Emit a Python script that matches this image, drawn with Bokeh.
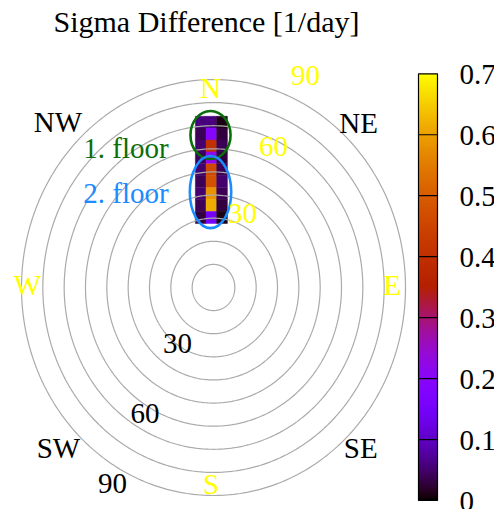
import math
import numpy as np
from bokeh.plotting import figure
from bokeh.models import Range1d, ColumnDataSource, Label, LinearColorMapper
from bokeh.transform import linear_cmap
from bokeh.core.properties import value
from bokeh.embed import file_html
from bokeh.resources import INLINE

TITLE = "Sigma Difference [1/day]"
FONT = "Liberation Serif"

# zenith-angle rings of the polar grid (deg)
ring_zen = [10, 20, 30, 40, 50, 60, 70, 80, 90]

# sigma-difference cells: east-west offset of each column, zenith of each row
col_x = [-6, -1, 4]
row_zen = [71.5, 66.4, 61.2, 56.1, 50.9, 45.8, 40.6, 35.5, 30.3]
sigma_west = [0.06, 0.04, 0.05, 0.04, 0.05, 0.04, 0.05, 0.04, 0.03]
sigma_mid = [0.06, 0.19, 0.40, 0.22, 0.46, 0.48, 0.58, 0.61, 0.15]
sigma_east = [0.01, 0.03, 0.04, 0.03, 0.04, 0.05, 0.04, 0.03, 0.01]

# the two floors, outlined as ellipses (deg)
floor_names = ["1. floor", "2. floor"]
floor_x = [-1.4, -1.4]
floor_zen = [66.0, 41.3]
floor_w = [18.8, 19.4]
floor_h = [20.8, 31.2]
floor_colors = ["#0a6e0a", "#1a8cff"]
floor_label_x = [-41.0, -41.0]
floor_label_y = [60.5, 41.0]

# compass directions
compass = ["N", "NE", "E", "SE", "S", "SW", "W", "NW"]
compass_x = [-1.4, 68.0, 83.7, 69.0, -1.2, -72.7, -87.2, -72.9]
compass_y = [86.5, 71.3, 0.9, -69.6, -85.2, -69.6, 0.9, 71.5]
compass_colors = ["#ffff00", "black", "#ffff00", "black",
                  "#ffff00", "black", "#ffff00", "black"]

# zenith-angle annotations
zen_text = ["30", "60", "90", "30", "60", "90"]
zen_x = [13.6, 28.1, 43.1, -16.9, -32.1, -47.4]
zen_y = [32.2, 61.1, 91.7, -24.1, -54.6, -85.0]
zen_colors = ["#ffff00"] * 3 + ["black"] * 3

# colour scale
cb_low, cb_high = 0.0, 0.7
cb_ticks = [0.0, 0.1, 0.2, 0.3, 0.4, 0.5, 0.6, 0.7]
cb_labels = ["0", "0.1", "0.2", "0.3", "0.4", "0.5", "0.6", "0.7"]


def gnuplot_palette(n=256):
    """Default gnuplot pm3d palette (rgbformulae 7,5,15)."""
    cols = []
    for i in range(n):
        t = i / (n - 1)
        r = math.sqrt(t)
        g = t ** 3
        b = max(0.0, math.sin(2 * math.pi * t))
        cols.append("#%02x%02x%02x" % (round(255 * r), round(255 * g), round(255 * b)))
    return cols


palette = gnuplot_palette()

W, H = 494, 509
cx, cy = 213.0, 287.0          # pole position on the canvas
sx, sy = 192.0 / 90, 208.0 / 90  # pixels per degree

p = figure(width=W, height=H, output_backend="svg", toolbar_location=None,
           x_range=Range1d(-cx / sx, (W - cx) / sx),
           y_range=Range1d(-(H - cy) / sy, cy / sy),
           min_border=0, outline_line_color=None, background_fill_color="white")
p.axis.visible = False
p.grid.visible = False
p.extra_x_ranges = {"px": Range1d(0, W)}
p.extra_y_ranges = {"pxy": Range1d(H, 0),
                    "cb": Range1d(cb_low - 9 * 0.7 / 426.7,
                                  cb_high + 73.3 * 0.7 / 426.7)}

# heat-map cells
xs, ys, vs = [], [], []
for cx_i, col in zip(col_x, [sigma_west, sigma_mid, sigma_east]):
    for z, v in zip(row_zen, col):
        xs.append(cx_i)
        ys.append(z)
        vs.append(v)
src = ColumnDataSource(dict(x=xs, y=ys, v=vs))
cmap = linear_cmap("v", palette, cb_low, cb_high)
p.rect(x="x", y="y", width=5, height=5.15, source=src,
       fill_color=cmap, line_color=cmap, line_width=0.5)

# polar grid rings
t = np.linspace(0, 2 * np.pi, 361)
for r in ring_zen:
    p.line(r * np.sin(t), r * np.cos(t), line_color="#aaaaaa", line_width=1.2)

# floor outlines
p.ellipse(x=floor_x, y=floor_zen, width=floor_w, height=floor_h,
          fill_alpha=0, line_color=floor_colors, line_width=2.6)
p.text(x=floor_label_x, y=floor_label_y, text=floor_names, text_color=floor_colors,
       text_font=value(FONT), text_font_size="29px",
       text_align="center", text_baseline="middle")

# compass and zenith labels
p.text(x=compass_x, y=compass_y, text=compass, text_color=compass_colors,
       text_font=value(FONT), text_font_size="29px",
       text_align="center", text_baseline="middle")
p.text(x=zen_x, y=zen_y, text=zen_text, text_color=zen_colors,
       text_font=value(FONT), text_font_size="29px",
       text_align="center", text_baseline="middle")

# colour bar: a smooth gradient image, tick lines across it and a frame
mapper = LinearColorMapper(palette=palette, low=cb_low, high=cb_high)
grad = np.linspace(cb_low, cb_high, 512).reshape(512, 1)
p.image(image=[grad], x=418, y=cb_low, dw=19, dh=cb_high - cb_low,
        color_mapper=mapper, x_range_name="px", y_range_name="cb")
p.segment(x0=418, x1=437, y0=cb_ticks[1:-1], y1=cb_ticks[1:-1], line_color="black",
          line_width=1.2, x_range_name="px", y_range_name="cb")
p.quad(left=418, right=437, bottom=cb_low, top=cb_high, fill_color=None,
       line_color="black", line_width=1.2, x_range_name="px", y_range_name="cb")
p.text(x=459, y=cb_ticks, y_offset=1, text=cb_labels, text_color="black",
       text_font=value(FONT), text_font_size="29px",
       text_align="left", text_baseline="middle", x_range_name="px", y_range_name="cb")

# title
p.add_layout(Label(x=206, y=21, text=TITLE, x_range_name="px", y_range_name="pxy",
                   text_font=FONT, text_font_size="30px", text_color="black",
                   text_align="center", text_baseline="middle"))

open("out.html", "w").write(file_html(p, INLINE))
